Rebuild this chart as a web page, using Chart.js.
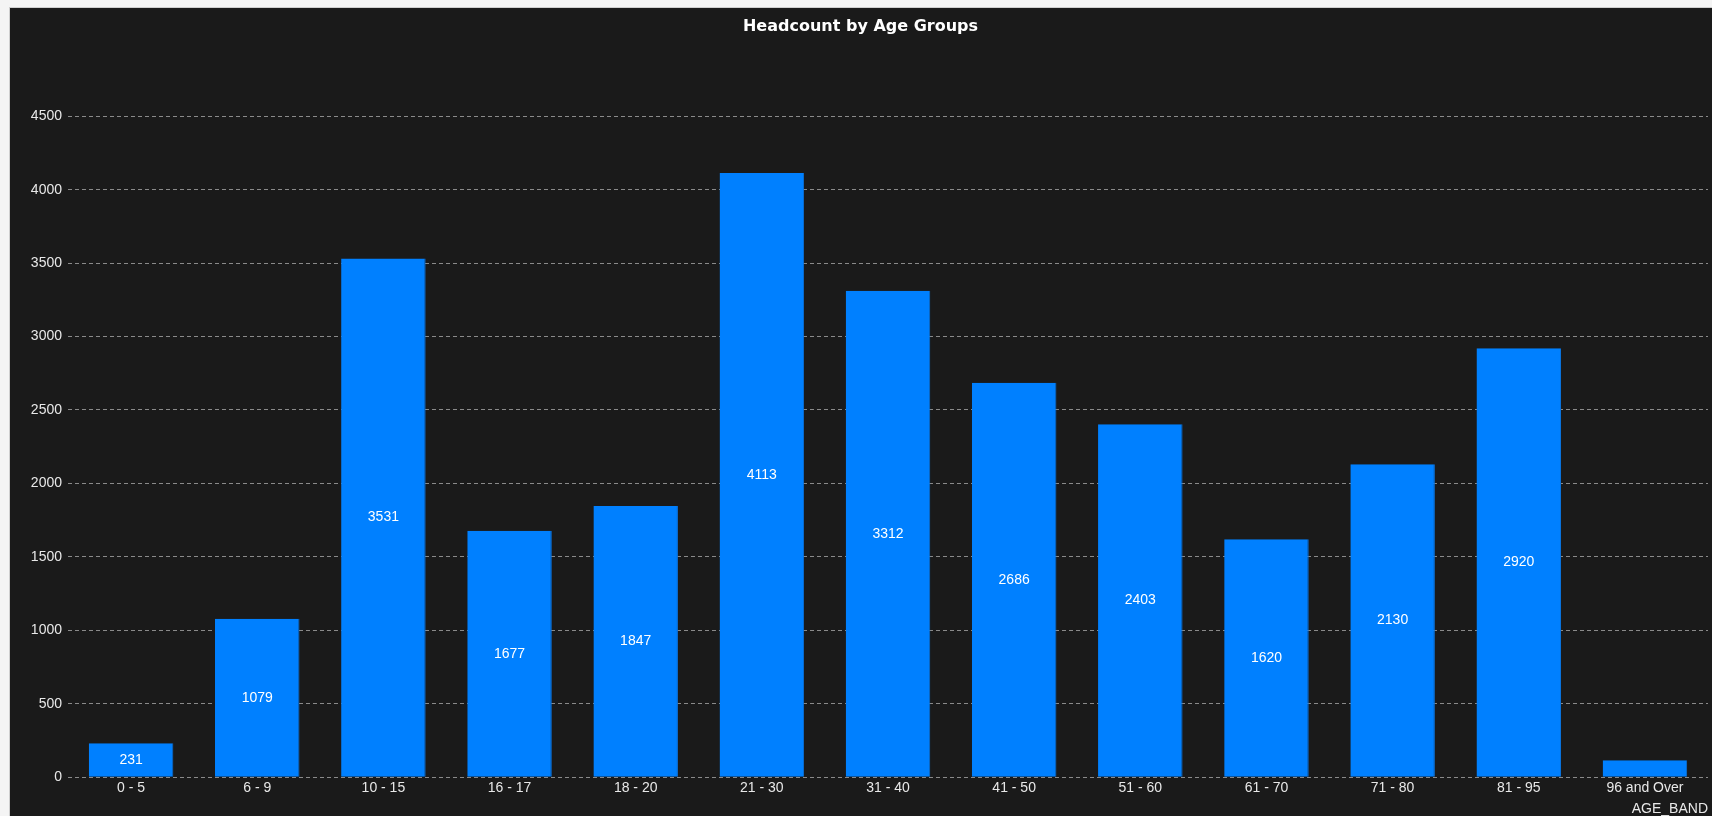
<!DOCTYPE html>
<html lang="en">
<head>
<meta charset="UTF-8">
<title>Headcount by Age Groups</title>
<script src="https://cdn.jsdelivr.net/npm/chart.js@4.4.1/dist/chart.umd.min.js"></script>
<style>
    html, body { margin: 0; padding: 0; background: #f4f4f4; overflow: hidden; }
    #panel {
        position: absolute;
        left: 9px; top: 7px;
        width: 1703px; height: 809px;
        background: #1a1a1a;
        border-top: 1px solid #cfcfcf;
        border-left: 1px solid #cfcfcf;
        box-sizing: border-box;
    }
    #ageChart { display: block; }
</style>
</head>
<body>
<div id="panel">
    <canvas id="ageChart" width="1702" height="808"></canvas>
</div>
<script>
const ageBands = ['0 - 5', '6 - 9', '10 - 15', '16 - 17', '18 - 20', '21 - 30', '31 - 40',
    '41 - 50', '51 - 60', '61 - 70', '71 - 80', '81 - 95', '96 and Over'];
const headcounts = [231, 1079, 3531, 1677, 1847, 4113, 3312, 2686, 2403, 1620, 2130, 2920, 115];
const yTicks = [0, 500, 1000, 1500, 2000, 2500, 3000, 3500, 4000, 4500];

const FONT = '"Liberation Sans", Arial, sans-serif';

// 막대 가운데에 값 표시 (너무 낮은 막대는 생략)
const barValueLabels = {
    id: 'barValueLabels',
    afterDatasetsDraw(chart) {
        const { ctx } = chart;
        const meta = chart.getDatasetMeta(0);
        ctx.save();
        ctx.fillStyle = '#ffffff';
        ctx.font = '14px ' + FONT;
        ctx.textAlign = 'center';
        ctx.textBaseline = 'middle';
        meta.data.forEach((bar, i) => {
            const h = bar.base - bar.y;
            if (h < 20) return;
            ctx.fillText(String(headcounts[i]), bar.x, (bar.y + bar.base) / 2);
        });
        ctx.restore();
    }
};

document.addEventListener('DOMContentLoaded', () => {
    const ctx = document.getElementById('ageChart').getContext('2d');
    new Chart(ctx, {
        type: 'bar',
        data: {
            labels: ageBands,
            datasets: [{
                label: 'Headcount',
                data: headcounts,
                backgroundColor: '#0080ff',
                borderColor: '#0a72dc',
                borderWidth: { right: 1 },
                barPercentage: 0.67,
                categoryPercentage: 1
            }]
        },
        options: {
            responsive: false,
            animation: false,
            layout: { padding: { left: 3, right: 4, bottom: 0, top: 0 } },
            plugins: {
                legend: { display: false },
                tooltip: { enabled: false },
                title: {
                    display: true,
                    text: 'Headcount by Age Groups',
                    color: '#ffffff',
                    font: { family: '"DejaVu Sans", Verdana, sans-serif', size: 16, weight: 'bold' },
                    padding: { top: 9, bottom: 80 }
                }
            },
            scales: {
                x: {
                    grid: { display: false, drawTicks: false },
                    border: { display: false },
                    ticks: { color: '#e8e8e8', font: { family: FONT, size: 14 }, padding: 3, maxRotation: 0 },
                    title: {
                        display: true,
                        text: 'AGE_BAND',
                        align: 'end',
                        color: '#e8e8e8',
                        font: { family: FONT, size: 14, lineHeight: 1 },
                        padding: { top: 2, bottom: 0 }
                    }
                },
                y: {
                    min: 0,
                    max: yTicks[yTicks.length - 1],
                    afterBuildTicks: axis => { axis.ticks = yTicks.map(v => ({ value: v })); },
                    afterFit: axis => { axis.width = 55; },
                    grid: {
                        color: '#8a8a8a',
                        lineWidth: 1,
                        drawTicks: false
                    },
                    border: { display: false, dash: [4, 3] },
                    ticks: {
                        color: '#e8e8e8',
                        font: { family: FONT, size: 14 },
                        padding: 6,
                        callback: v => String(v)
                    }
                }
            }
        },
        plugins: [barValueLabels]
    });
});
</script>
</body>
</html>
